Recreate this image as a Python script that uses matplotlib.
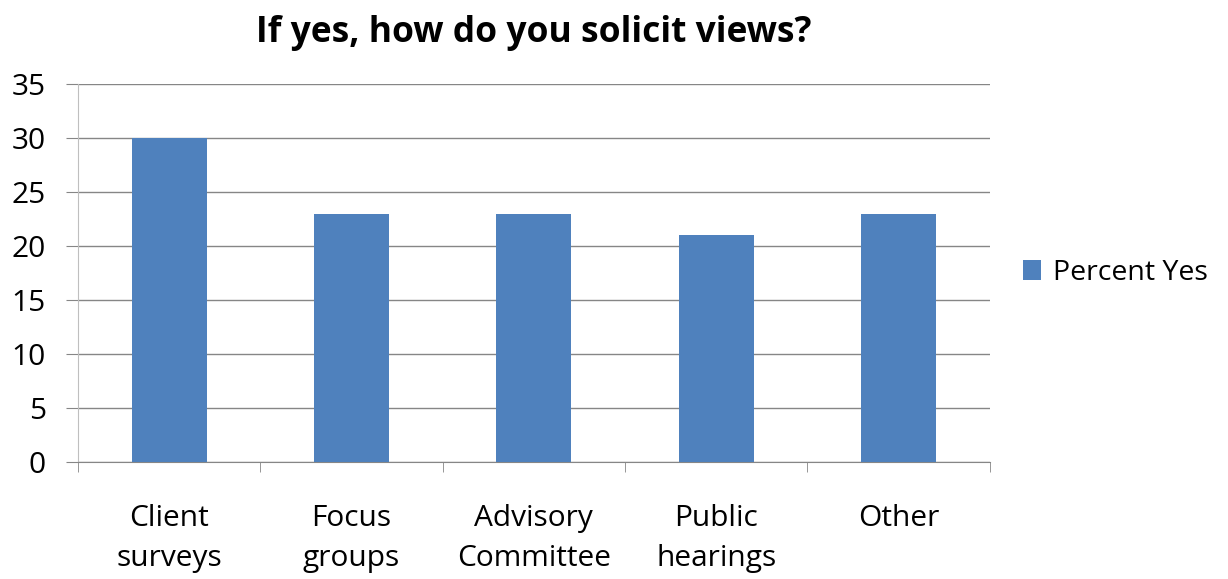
import matplotlib
matplotlib.use("Agg")
import matplotlib.pyplot as plt
import numpy as np

# data
categories = ["Client\nsurveys", "Focus\ngroups", "Advisory\nCommittee", "Public\nhearings", "Other"]
percent_yes = [30, 23, 23, 21, 23]
y_ticks = [0, 5, 10, 15, 20, 25, 30, 35]

plt.rcParams['font.family'] = ['Open Sans', 'DejaVu Sans']

fig = plt.figure(figsize=(12.28, 5.79), dpi=100)
ax = fig.add_axes([0.0635, 0.202, 0.7425, 0.653])

x = np.arange(len(categories))
ax.bar(x, percent_yes, width=0.41, color="#4F81BD", label="Percent Yes", zorder=3)

ax.set_xlim(-0.5, len(categories) - 0.5)
ax.set_ylim(0, 35)
ax.set_yticks(y_ticks)
ax.yaxis.grid(True, color="#868686", linewidth=1.0, zorder=0)

# category labels sit between the tick marks
ax.set_xticks(x)
ax.set_xticklabels(categories, fontsize=21.5, linespacing=1.5)
ax.tick_params(axis='x', length=0, pad=30)
ax.set_xticks(np.arange(-0.5, len(categories)), minor=True)
ax.tick_params(axis='x', which='minor', length=7, color="#868686")
ax.tick_params(axis='y', labelsize=21.5, length=9, color="#868686", pad=14)

for s in ["top", "right"]:
    ax.spines[s].set_visible(False)
ax.spines["left"].set_color("#BFBFBF")
ax.spines["bottom"].set_color("#868686")

ax.set_title("If yes, how do you solicit views?", fontsize=25.5, fontweight="bold", pad=30)

ax.legend(loc="center left", bbox_to_anchor=(1.008, 0.5), frameon=False,
          fontsize=20.5, handlelength=0.65, handleheight=0.65, handletextpad=0.4)

fig.savefig("out.png", dpi=100)
